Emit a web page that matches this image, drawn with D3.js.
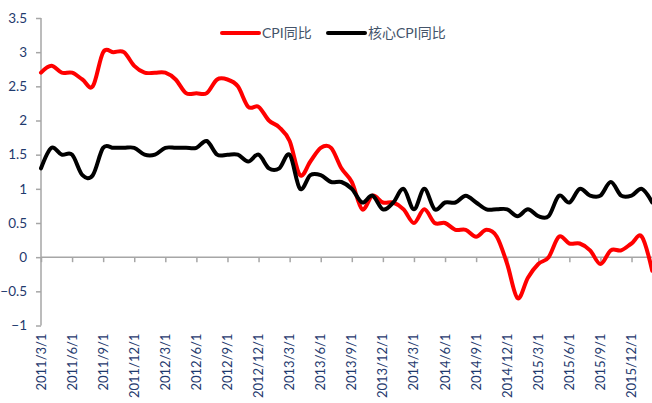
<!DOCTYPE html>
<html>
<head>
<meta charset="utf-8">
<script src="https://cdn.jsdelivr.net/npm/d3@7/dist/d3.min.js"></script>
<style>
  html, body { margin: 0; padding: 0; background: #fff; }
  svg { display: block; }
  text { font-family: Lato, "Noto Sans CJK SC", sans-serif; }
</style>
</head>
<body>
<svg id="chart" width="652" height="403"></svg>
<script>
// Monthly categories, 2011/3 through 2016/2
const months = [
  "2011/3/1","2011/4/1","2011/5/1","2011/6/1","2011/7/1","2011/8/1","2011/9/1","2011/10/1","2011/11/1","2011/12/1",
  "2012/1/1","2012/2/1","2012/3/1","2012/4/1","2012/5/1","2012/6/1","2012/7/1","2012/8/1","2012/9/1","2012/10/1","2012/11/1","2012/12/1",
  "2013/1/1","2013/2/1","2013/3/1","2013/4/1","2013/5/1","2013/6/1","2013/7/1","2013/8/1","2013/9/1","2013/10/1","2013/11/1","2013/12/1",
  "2014/1/1","2014/2/1","2014/3/1","2014/4/1","2014/5/1","2014/6/1","2014/7/1","2014/8/1","2014/9/1","2014/10/1","2014/11/1","2014/12/1",
  "2015/1/1","2015/2/1","2015/3/1","2015/4/1","2015/5/1","2015/6/1","2015/7/1","2015/8/1","2015/9/1","2015/10/1","2015/11/1","2015/12/1",
  "2016/1/1","2016/2/1"
];

// CPI year-on-year (%)
const cpi = [
  2.7, 2.8, 2.7, 2.7, 2.6, 2.5, 3.0, 3.0, 3.0, 2.8,
  2.7, 2.7, 2.7, 2.6, 2.4, 2.4, 2.4, 2.6, 2.6, 2.5, 2.2, 2.2,
  2.0, 1.9, 1.7, 1.2, 1.4, 1.6, 1.6, 1.3, 1.1, 0.7, 0.9, 0.8,
  0.8, 0.7, 0.5, 0.7, 0.5, 0.5, 0.4, 0.4, 0.3, 0.4, 0.3, -0.1,
  -0.6, -0.3, -0.1, 0.0, 0.3, 0.2, 0.2, 0.1, -0.1, 0.1, 0.1, 0.2,
  0.3, -0.2
];

// Core CPI year-on-year (%)
const coreCpi = [
  1.3, 1.6, 1.5, 1.5, 1.2, 1.2, 1.6, 1.6, 1.6, 1.6,
  1.5, 1.5, 1.6, 1.6, 1.6, 1.6, 1.7, 1.5, 1.5, 1.5, 1.4, 1.5,
  1.3, 1.3, 1.5, 1.0, 1.2, 1.2, 1.1, 1.1, 1.0, 0.8, 0.9, 0.7,
  0.8, 1.0, 0.7, 1.0, 0.7, 0.8, 0.8, 0.9, 0.8, 0.7, 0.7, 0.7,
  0.6, 0.7, 0.6, 0.6, 0.9, 0.8, 1.0, 0.9, 0.9, 1.1, 0.9, 0.9,
  1.0, 0.8
];

const seriesNames = ["CPI同比", "核心CPI同比"];
const seriesColors = ["#ff0000", "#000000"];

const yTicks = [-1, -0.5, 0, 0.5, 1, 1.5, 2, 2.5, 3, 3.5];
const xTickLabels = [
  "2011/3/1","2011/6/1","2011/9/1","2011/12/1","2012/3/1","2012/6/1","2012/9/1","2012/12/1",
  "2013/3/1","2013/6/1","2013/9/1","2013/12/1","2014/3/1","2014/6/1","2014/9/1","2014/12/1",
  "2015/3/1","2015/6/1","2015/9/1","2015/12/1"
];

const svg = d3.select("#chart");
const left = 41, step = 10.36;
const x = d3.scalePoint().domain(months).range([left, left + step * (months.length - 1)]);
const y = d3.scaleLinear().domain([-1, 3.5]).range([325.5, 18]);

const axisColor = "#a6a6a6";
const labelColor = "#1f3a6e";

// Y axis
const yAxis = svg.append("g").attr("transform", `translate(${left},0)`)
  .call(d3.axisLeft(y).tickValues(yTicks).tickSize(5).tickPadding(9)
    .tickFormat(d => d3.format("")(d)));
yAxis.select(".domain").attr("stroke", axisColor).attr("stroke-width", 1.5).attr("d", `M0,${y(-1)}V${y(3.5)}`);
yAxis.selectAll(".tick line").attr("stroke", axisColor).attr("stroke-width", 1.5);
yAxis.selectAll(".tick text").attr("fill", labelColor).attr("font-size", 13.5);

// X axis along zero
const xAxis = svg.append("g").attr("transform", `translate(0,${y(0)})`)
  .call(d3.axisBottom(x).tickValues(xTickLabels).tickSize(5).tickSizeOuter(0));
xAxis.select(".domain").attr("stroke", axisColor).attr("stroke-width", 1.5)
  .attr("d", `M${left},0H652`);
xAxis.selectAll(".tick line").attr("stroke", axisColor).attr("stroke-width", 1.5);
xAxis.selectAll(".tick text").remove();

// Rotated date labels below the plot
svg.append("g").selectAll("text").data(xTickLabels).join("text")
  .attr("transform", d => `translate(${x(d) + 4.5},${y(-1) + 8}) rotate(-90)`)
  .attr("text-anchor", "end")
  .attr("fill", labelColor)
  .attr("font-size", 13)
  .text(d => d);

// Series lines
const line = d3.line()
  .x((d, i) => x(months[i]))
  .y(d => y(d))
  .curve(d3.curveCardinal.tension(0));

[cpi, coreCpi].forEach((vals, k) => {
  svg.append("path").datum(vals)
    .attr("d", line)
    .attr("fill", "none")
    .attr("stroke", seriesColors[k])
    .attr("stroke-width", 4)
    .attr("stroke-linejoin", "round")
    .attr("stroke-linecap", "round");
});

// Legend
const legendPos = [222, 328];
seriesNames.forEach((name, k) => {
  const g = svg.append("g").attr("transform", `translate(${legendPos[k]},33)`);
  g.append("line").attr("x1", 0).attr("x2", 37).attr("y1", 0).attr("y2", 0)
    .attr("stroke", seriesColors[k]).attr("stroke-width", 4).attr("stroke-linecap", "round");
  g.append("text").attr("x", 40).attr("y", 5)
    .attr("fill", "#44546a").attr("font-size", 14).text(name);
});
</script>
</body>
</html>
